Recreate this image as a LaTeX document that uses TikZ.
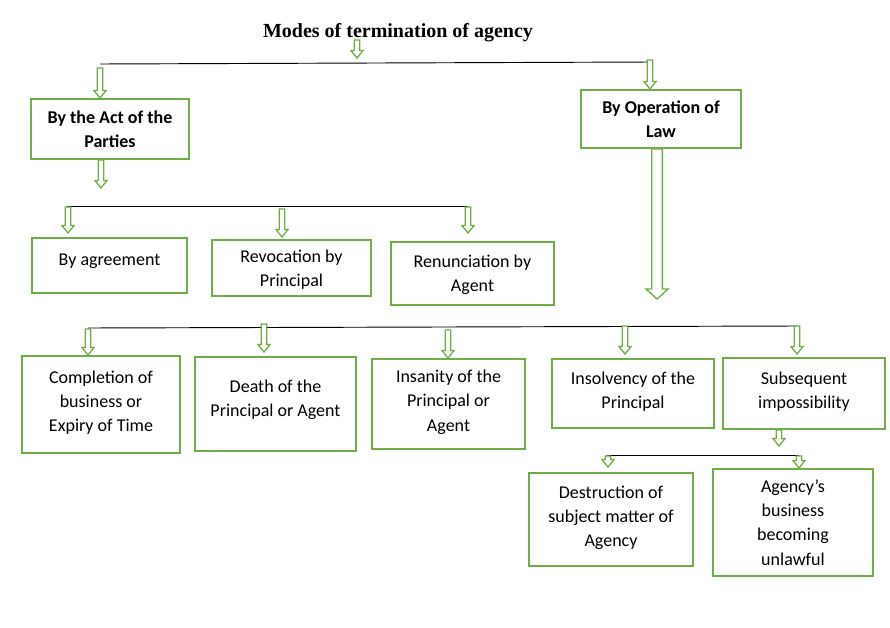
\documentclass[tikz,border=0pt]{standalone}
\usepackage{fontspec}
\setmainfont{Carlito}
\newfontfamily\titlefont{Liberation Serif}
\usetikzlibrary{calc}
\definecolor{boxgreen}{HTML}{70AD47}

% hollow block arrow: from, to, half shaft, half head, head length
\newcommand{\blockarrow}[5]{%
  \draw[blockarr] let \p1=(#1), \p2=(#2) in
    (\x1-#3,\y1) -- (\x1-#3,\y2+#5) -- (\x1-#4,\y2+#5) -- (\x1,\y2)
    -- (\x1+#4,\y2+#5) -- (\x1+#3,\y2+#5) -- (\x1+#3,\y1) -- cycle;}
\newcommand{\smallarrow}[2]{\blockarrow{#1}{#2}{2.1pt}{4.5pt}{5.6pt}}
\newcommand{\bigarrow}[2]{\blockarrow{#1}{#2}{4pt}{8.3pt}{7.5pt}}

\begin{document}
\begin{tikzpicture}[
            x = 0.75pt, y = -0.75pt, % one unit = one pixel of the sketch
            box/.style = {
                draw = boxgreen,
                line width = 1.5pt,
                fill = white,
                align = center,
                inner sep = 2pt,
                text depth = 5pt,
                font = \fontsize{13.5}{18.2}\selectfont
            },
            topbox/.style = {box, font = \bfseries\fontsize{13.5}{18.4}\selectfont},
            hline/.style = {draw = black, line width = 0.7pt},
            blockarr/.style = {draw = boxgreen, line width = 1pt, fill = white}
        ]

        \useasboundingbox (0,0) rectangle (890,628);

        \node[font = \titlefont\bfseries\fontsize{15}{17}\selectfont] (title) at (398,33) {Modes of termination of agency};

        % first level
        \node[topbox, minimum width = 118.5pt, minimum height = 45pt, text depth = -1pt] (act) at (110,129) {By the Act of the\\Parties};
        \node[topbox, minimum width = 120pt, minimum height = 43.5pt, text depth = -10pt] (oper) at (661,119) {By Operation of\\Law};

        % by the act of the parties
        \node[box, minimum width = 116.25pt, minimum height = 41.25pt, text depth = 9pt] (agree) at (109.5,265.5) {By agreement};
        \node[box, minimum width = 119.25pt, minimum height = 42pt, text depth = -9pt] (revoc) at (291.5,268) {Revocation by\\Principal};
        \node[box, minimum width = 122.25pt, minimum height = 47.25pt, text depth = 0.5pt] (renun) at (472.5,273.5) {Renunciation by\\Agent};

        % by operation of law
        \node[box, minimum width = 118.5pt, minimum height = 72.75pt] (compl) at (101,404.5) {Completion of\\business or\\Expiry of Time};
        \node[box, minimum width = 120.75pt, minimum height = 70.5pt, text depth = 9pt] (death) at (275.5,404) {Death of the\\Principal or Agent};
        \node[box, minimum width = 114.75pt, minimum height = 67.5pt] (insan) at (448.5,404) {Insanity of the\\Principal or\\Agent};
        \node[box, minimum width = 121.5pt, minimum height = 51.75pt] (insolv) at (633,393.5) {Insolvency of the\\Principal};
        \node[box, minimum width = 121.5pt, minimum height = 53.25pt] (subseq) at (804,393.5) {Subsequent\\impossibility};

        % subsequent impossibility
        \node[box, minimum width = 123pt, minimum height = 69.75pt] (destr) at (611,519.5) {Destruction of\\subject matter of\\Agency};
        \node[box, minimum width = 120pt, minimum height = 80.25pt, text depth = -7pt] (unlaw) at (793,522.5) {Agency’s\\business\\becoming\\unlawful};

        % branch lines
        \coordinate (t1) at (100,64);
        \coordinate (t2) at (652,62);
        \coordinate (p1) at (67,206);
        \coordinate (p2) at (282,206);
        \coordinate (p3) at (468,206);
        \coordinate (l1) at (88,328);
        \coordinate (l2) at (264,327);
        \coordinate (l3) at (448,327);
        \coordinate (l4) at (625,326);
        \coordinate (l5) at (798,326);
        \coordinate (s1) at (607,455);
        \coordinate (s2) at (799,455);

        \draw[hline] (t1) -- (t2);
        \draw[hline] (p1) -- (p3);
        \draw[hline] (l1) -- (l5);
        \draw[hline] (s1) -- (s2);

        % block arrows
        \coordinate (ta) at (357,40);
        \coordinate (tb) at (357,58);
        \coordinate (ad) at (101,188);
        \coordinate (lawtip) at (657,299);
        \coordinate (sd) at (779,446);

        \smallarrow{ta}{tb}
        \smallarrow{$(t1)+(0,4)$}{act.north}
        \smallarrow{$(t2)+(-2,-2)$}{oper.north}
        \smallarrow{act.south -| ad}{ad}
        \bigarrow{oper.south -| lawtip}{lawtip}

        \smallarrow{$(p1)+(1,1)$}{$(agree.north)+(0,-4)$}
        \smallarrow{$(p2)+(0,3)$}{$(revoc.north)+(0,-2)$}
        \smallarrow{$(p3)+(0,1)$}{$(renun.north)+(0,-8)$}

        \smallarrow{$(l1)+(0,1)$}{compl.north}
        \smallarrow{$(l2)+(0,-3)$}{$(death.north)+(0,-4)$}
        \smallarrow{$(l3)+(0,3)$}{insan.north}
        \smallarrow{l4}{$(insolv.north)+(0,-4)$}
        \smallarrow{$(l5)+(-1,0)$}{$(subseq.north)+(0,-3)$}

        \smallarrow{subseq.south -| sd}{sd}
        \smallarrow{$(s1)+(1,1)$}{$(destr.north)+(0,-5)$}
        \smallarrow{$(s2)+(0,1)$}{unlaw.north}

    \end{tikzpicture}
\end{document}
